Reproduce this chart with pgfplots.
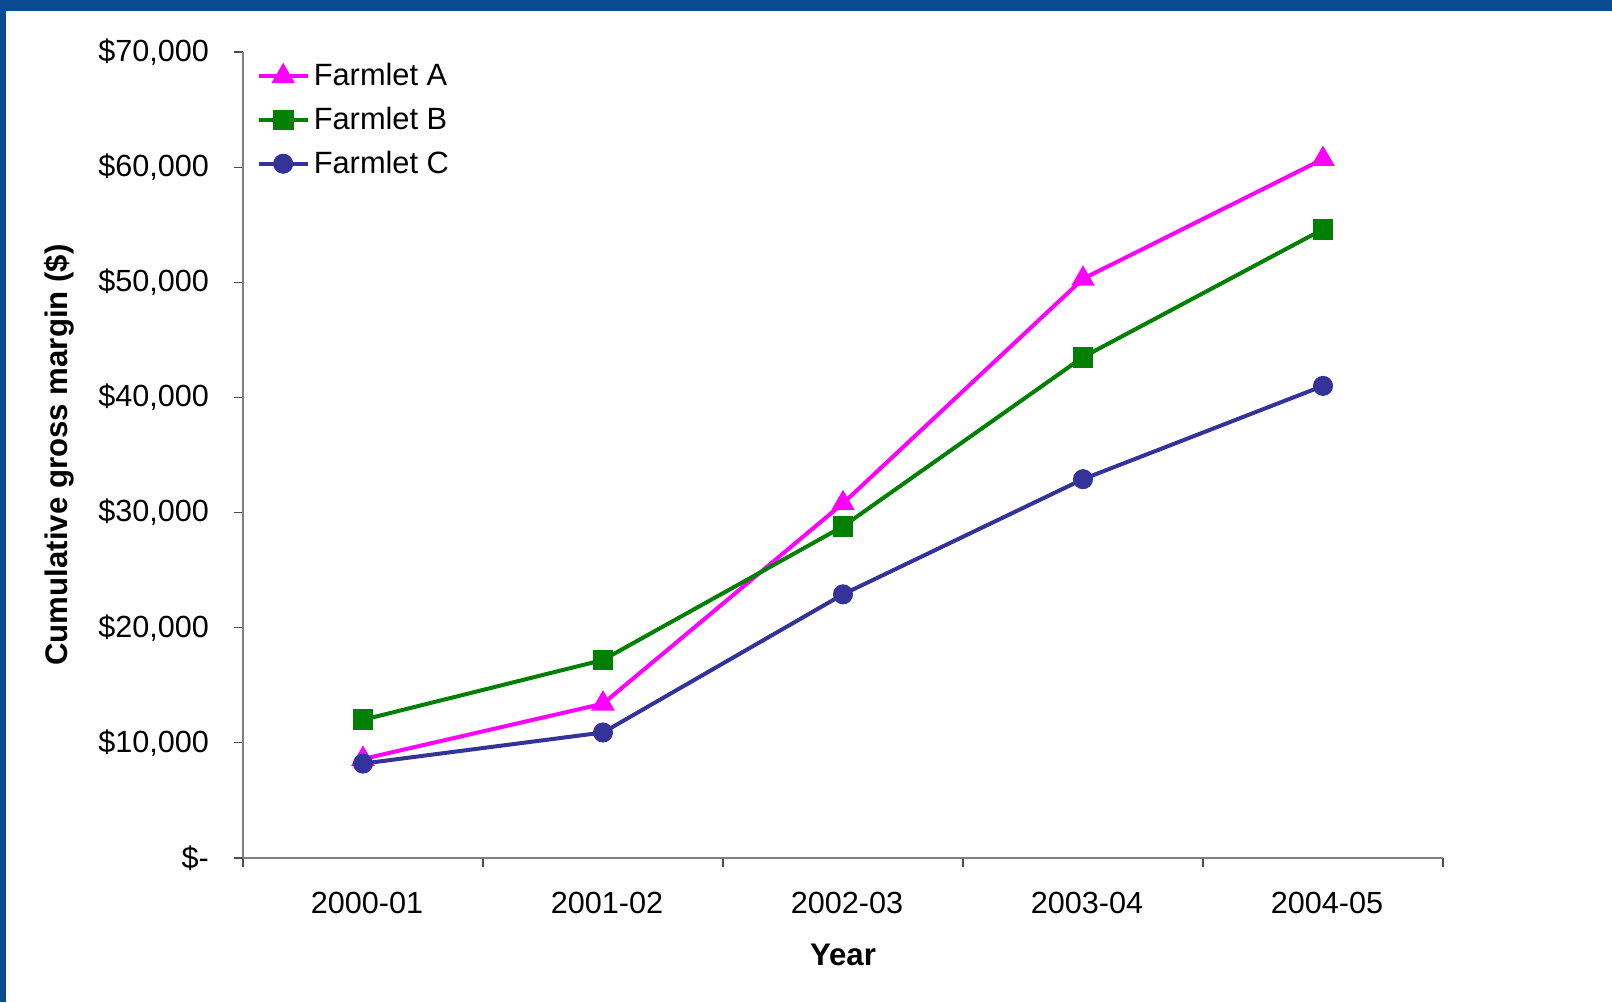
\documentclass[border=0pt]{standalone}
\usepackage{fontspec}
\setmainfont{Liberation Sans}
\usepackage{pgfplots}
\pgfplotsset{compat=1.18}
\definecolor{frameblue}{HTML}{0A4A91}
\definecolor{fA}{HTML}{FF00FF}
\definecolor{fB}{HTML}{008000}
\definecolor{fC}{HTML}{333399}
\definecolor{axgray}{HTML}{7F7F7F}
\begin{document}
\begin{tikzpicture}
\useasboundingbox (0pt,0pt) rectangle (806pt,501pt);
\fill[white] (0pt,0pt) rectangle (806pt,501pt);
\fill[frameblue] (0pt,495.6pt) rectangle (806pt,501pt);
\fill[frameblue] (0pt,0pt) rectangle (3pt,501pt);
\begin{axis}[
  at={(121.5pt,72pt)}, anchor=south west,
  scale only axis, width=600pt, height=403pt,
  xmin=-0.5, xmax=4.5, ymin=0, ymax=70000,
  scaled y ticks=false,
  axis x line*=bottom, axis y line*=left,
  axis line style={axgray, line width=0.8pt},
  xtick={0,1,2,3,4},
  xticklabels={2000-01,2001-02,2002-03,2003-04,2004-05},
  minor xtick={-0.5,0.5,1.5,2.5,3.5,4.5},
  major x tick style={draw=none},
  minor x tick style={black!70, line width=0.6pt},
  ytick={0,10000,20000,30000,40000,50000,60000,70000},
  yticklabels={{\$-},{\$10,000},{\$20,000},{\$30,000},{\$40,000},{\$50,000},{\$60,000},{\$70,000}},
  y tick style={black!70, line width=0.6pt},
  tick align=outside,
  major tick length=4.5pt, minor tick length=4.5pt,
  tick label style={font=\fontsize{15.3}{18}\selectfont, text=black},
  yticklabel style={anchor=east, xshift=-9pt},
  xticklabel style={anchor=center, yshift=-17.8pt, xshift=2pt},
  xlabel={Year},
  ylabel={Cumulative gross margin (\$)},
  label style={font=\fontsize{15.6}{18}\selectfont\bfseries},
  xlabel style={at={(axis description cs:0.5,-0.1203)}, anchor=center},
  ylabel style={at={(axis description cs:-0.1529,0.5)}, anchor=center, rotate=0},
  legend style={at={(axis description cs:0.011,0.991)}, anchor=north west, draw=none, fill=none,
    font=\fontsize{15.4}{18}\selectfont, row sep=5.2pt, inner sep=0pt},
  legend cell align=left,
  legend image code/.code={\draw[mark repeat=2,mark phase=2] plot coordinates {(0pt,0pt)(12.3pt,0pt)(24.6pt,0pt)};},
  clip=false,
]
\addplot[fA, line width=2pt, mark=triangle*, mark size=4.8pt, mark options={solid}] coordinates {
  (0,8600) (1,13400) (2,30800) (3,50300) (4,60700)};
\addlegendentry{Farmlet A}
\addplot[fB, line width=2pt, mark=square*, mark size=4.2pt] coordinates {
  (0,12000) (1,17200) (2,28800) (3,43500) (4,54600)};
\addlegendentry{Farmlet B}
\addplot[fC, line width=2pt, mark=*, mark size=4pt] coordinates {
  (0,8200) (1,10900) (2,22900) (3,32900) (4,41000)};
\addlegendentry{Farmlet C}
\end{axis}
\end{tikzpicture}
\end{document}
